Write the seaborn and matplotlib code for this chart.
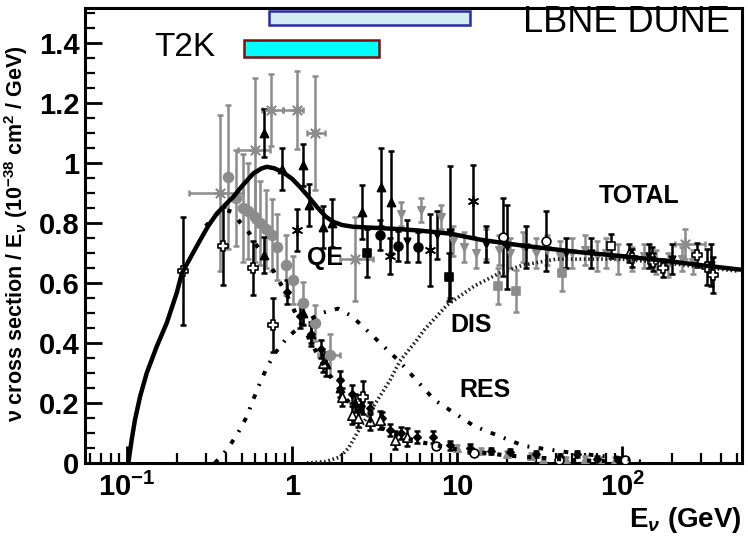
import numpy as np
import matplotlib
matplotlib.use("Agg")
import matplotlib.pyplot as plt
from matplotlib.patches import Rectangle
from matplotlib.ticker import FixedLocator, FixedFormatter, NullFormatter, LogLocator, MultipleLocator
import seaborn as sns

# ---------------- curves ----------------
total_x = [0.102, 0.1067, 0.1117, 0.12, 0.1316, 0.1514, 0.174, 0.2, 0.215, 0.245, 0.277, 0.31,
           0.35, 0.4, 0.441, 0.5, 0.583, 0.65, 0.703, 0.78, 0.88, 1.0, 1.12, 1.25, 1.42, 1.6, 1.77, 2.0,
           2.34, 3.0, 4.5, 6.0, 9.1, 13.8, 17.4, 25, 40, 55.6, 100, 200, 300, 520]
total_y = [0.003, 0.078, 0.144, 0.222, 0.30, 0.389, 0.467, 0.567, 0.633, 0.69, 0.743, 0.79,
           0.832, 0.865, 0.888, 0.925, 0.966, 0.982, 0.988, 0.983, 0.97, 0.948, 0.92, 0.89, 0.853, 0.822,
           0.805, 0.794, 0.788, 0.785, 0.78, 0.775, 0.765, 0.745, 0.737, 0.725, 0.712, 0.703, 0.69,
           0.672, 0.66, 0.645]

qe_x = [0.3, 0.35, 0.376, 0.433, 0.484, 0.526, 0.572, 0.614, 0.658, 0.715, 0.767, 0.81, 0.93, 1.07, 1.23,
        1.38, 1.7, 2.15, 2.69, 3.4, 4.5, 6.0, 10, 20, 50, 100]
qe_y = [0.79, 0.83, 0.85, 0.837, 0.803, 0.783, 0.753, 0.723, 0.70, 0.67, 0.643, 0.62, 0.56, 0.49, 0.43,
        0.377, 0.29, 0.21, 0.157, 0.12, 0.09, 0.07, 0.045, 0.025, 0.01, 0.004]

res_x = [0.34, 0.37, 0.41, 0.47, 0.53, 0.58, 0.64, 0.705, 0.79, 0.93, 1.2, 1.5, 1.9, 2.3, 3.0, 4.45, 7.3,
         12.7, 25.4, 51, 98, 130]
res_y = [0.0, 0.02, 0.05, 0.10, 0.153, 0.21, 0.267, 0.32, 0.367, 0.417, 0.47, 0.50, 0.515, 0.49, 0.43,
         0.34, 0.21, 0.123, 0.057, 0.033, 0.017, 0.005]

dis_x = [1.23, 1.6, 1.95, 2.2, 2.48, 3.1, 3.93, 4.5, 5.7, 6.3, 8.7, 12.7, 18, 25, 40, 100, 200, 500]
dis_y = [0.0, 0.005, 0.02, 0.05, 0.10, 0.187, 0.277, 0.34, 0.41, 0.443, 0.527, 0.59, 0.633, 0.66, 0.68,
         0.68, 0.665, 0.64]

# ---------------- data points ----------------
gstar_x = [0.366, 0.597, 0.746, 1.07, 1.38, 2.41, 240]
gstar_y = [0.90, 1.043, 1.177, 1.177, 1.10, 0.68, 0.73]
gstar_yerr = [0.26, 0.24, 0.12, 0.13, 0.19, 0.14, 0.05]
gstar_xlo = [0.238, 0.47, 0.66, 0.88, 1.23, 1.95, 209]
gstar_xhi = [0.505, 0.736, 0.88, 1.17, 1.58, 3.1, 317]

gcirc_x = [0.41, 0.457, 0.505, 0.54, 0.597, 0.64, 0.696, 0.757, 0.81, 0.92, 1.014, 1.17, 1.38, 1.70]
gcirc_y = [0.953, 0.883, 0.85, 0.84, 0.82, 0.80, 0.78, 0.76, 0.72, 0.66, 0.61, 0.533, 0.467, 0.36]
gcirc_yerr = [0.24, 0.16, 0.18, 0.16, 0.15, 0.14, 0.13, 0.12, 0.11, 0.10, 0.08, 0.07, 0.06, 0.07]
gcirc_xlo = [0.41, 0.457, 0.505, 0.54, 0.597, 0.64, 0.696, 0.757, 0.81, 0.92, 1.014, 1.17, 1.38, 1.44]
gcirc_xhi = [0.41, 0.457, 0.505, 0.54, 0.597, 0.64, 0.696, 0.757, 0.81, 0.92, 1.014, 1.17, 1.38, 1.95]

btri_x = [0.677, 0.87, 1.17, 1.27, 1.54, 1.75, 2.65, 3.46, 3.98, 0.677, 1.17, 1.3, 1.6, 1.95, 2.4]
btri_y = [1.10, 0.98, 0.993, 0.86, 0.787, 0.80, 0.837, 0.92, 0.87, 0.693, 0.50, 0.43, 0.33, 0.25, 0.20]
btri_yerr = [0.08, 0.07, 0.07, 0.07, 0.07, 0.08, 0.09, 0.13, 0.17, 0.06, 0.04, 0.04, 0.04, 0.03, 0.03]

wcross_x = [0.218, 0.382, 0.58, 0.767, 2.69, 115, 154, 177, 285, 327, 356]
wcross_y = [0.64, 0.723, 0.65, 0.46, 0.22, 0.683, 0.67, 0.65, 0.693, 0.653, 0.627]
wcross_yerr = [0.18, 0.13, 0.09, 0.09, 0.055, 0.03, 0.03, 0.03, 0.04, 0.06, 0.06]

bcirc_x = [3.42, 4.39, 5.8]
bcirc_y = [0.76, 0.723, 0.72]
bcirc_yerr = [0.05, 0.05, 0.05]

bsq_x = [2.84, 8.95]
bsq_y = [0.70, 0.62]
bsq_yerr = [0.08, 0.08]

gsq_x = [17.7, 22.8, 43.3]
gsq_y = [0.59, 0.573, 0.633]
gsq_yerr = [0.06, 0.07, 0.06]

bast_x = [1.07, 3.93, 6.87, 12.5]
bast_y = [0.777, 0.69, 0.71, 0.873]
bast_yerr = [0.07, 0.06, 0.12, 0.12]

ocirc_x = [19.0, 34.6, 7.5, 12.7, 41.5, 104]
ocirc_y = [0.753, 0.74, 0.057, 0.033, 0.01, 0.01]
ocirc_yerr = [0.13, 0.10, 0.01, 0.01, 0.01, 0.01]

osq_x = [85.8]
osq_y = [0.723]
osq_yerr = [0.04]

otri_x = [1.54, 2.01, 2.31, 2.51, 2.97, 3.4, 4.2, 4.97, 110, 152]
otri_y = [0.333, 0.22, 0.16, 0.15, 0.14, 0.143, 0.077, 0.087, 0.70, 0.69]
otri_yerr = [0.03, 0.03, 0.03, 0.03, 0.03, 0.03, 0.03, 0.03, 0.03, 0.03]

ginv_x = [4.58, 6.05, 8.0, 9.5, 11, 13, 15, 18, 21, 25, 30, 35, 42, 50, 60, 70, 80, 95, 115, 135, 160,
          190, 230, 270]
ginv_y = [0.83, 0.843, 0.82, 0.74, 0.72, 0.70, 0.73, 0.71, 0.70, 0.72, 0.70, 0.71, 0.69, 0.70, 0.71, 0.69,
          0.70, 0.68, 0.68, 0.69, 0.67, 0.66, 0.68, 0.67]
ginv_yerr = [0.04, 0.04, 0.04, 0.05, 0.05, 0.05, 0.05, 0.05, 0.05, 0.05, 0.05, 0.05, 0.05, 0.05, 0.05,
             0.05, 0.05, 0.05, 0.04, 0.04, 0.04, 0.04, 0.04, 0.04]

binv_x = [5.0, 7.6, 9.1, 15, 20.1, 26, 46, 65, 146, 200, 345]
binv_y = [0.74, 0.76, 0.77, 0.73, 0.72, 0.72, 0.70, 0.70, 0.69, 0.68, 0.66]
binv_yerr = [0.07, 0.08, 0.22, 0.06, 0.14, 0.07, 0.05, 0.05, 0.04, 0.05, 0.07]

bqe_x = [0.93, 1.12, 1.3, 1.5, 1.95, 2.3, 2.6, 2.97, 3.5, 3.93, 4.6, 5.7, 7.1, 9.1, 12, 16, 21, 30, 42,
         53, 70, 95]
bqe_y = [0.57, 0.49, 0.43, 0.38, 0.277, 0.23, 0.19, 0.183, 0.15, 0.11, 0.10, 0.087, 0.087, 0.06, 0.05,
         0.04, 0.037, 0.03, 0.02, 0.03, 0.015, 0.01]
bqe_yerr = [0.04, 0.04, 0.03, 0.03, 0.03, 0.03, 0.02, 0.02, 0.02, 0.02, 0.02, 0.02, 0.02, 0.015, 0.015,
            0.01, 0.01, 0.01, 0.01, 0.01, 0.01, 0.01]

gqe_x = [10, 14, 20, 28, 33, 46, 60, 73, 90]
gqe_y = [0.05, 0.04, 0.03, 0.025, 0.01, 0.01, 0.015, 0.01, 0.01]
gqe_yerr = [0.01, 0.01, 0.01, 0.01, 0.01, 0.01, 0.01, 0.01, 0.01]

t2k_range = [0.51, 3.37]
t2k_band = [1.353, 1.41]
lbne_range = [0.72, 12.0]
lbne_band = [1.46, 1.507]

ytick_vals = [0, 0.2, 0.4, 0.6, 0.8, 1.0, 1.2, 1.4]
ytick_labels = ['0', '0.2', '0.4', '0.6', '0.8', '1', '1.2', '1.4']
xtick_vals = [0.1, 1, 10, 100]
xtick_labels = [r'10$^{-1}$', '1', '10', r'10$^{2}$']

# ---------------- style ----------------
sns.set_theme(style="white")
plt.rcParams['font.family'] = ['Liberation Sans', 'DejaVu Sans']
plt.rcParams['mathtext.fontset'] = 'custom'
plt.rcParams['mathtext.rm'] = 'Liberation Sans:bold'
plt.rcParams['mathtext.it'] = 'Liberation Sans:bold:italic'
plt.rcParams['mathtext.bf'] = 'Liberation Sans:bold'
for k in ['text.color', 'axes.labelcolor', 'xtick.color', 'ytick.color', 'axes.edgecolor']:
    plt.rcParams[k] = 'black'

GRAY = '#8c8c8c'

fig = plt.figure(figsize=(7.48, 5.46), dpi=100)
ax = fig.add_axes([0.1136, 0.152, 0.8784, 0.833])
ax.set_xscale('log')
ax.set_xlim(0.0556, 533)
ax.set_ylim(0, 1.517)

# curves
sns.lineplot(x=total_x, y=total_y, ax=ax, color='black', linewidth=3.2, sort=False, zorder=6)
sns.lineplot(x=qe_x, y=qe_y, ax=ax, color='black', linewidth=3.0, sort=False, zorder=5,
             linestyle=(0, (1, 2.6)))
sns.lineplot(x=res_x, y=res_y, ax=ax, color='black', linewidth=2.8, sort=False, zorder=5,
             linestyle=(0, (1.2, 2.4, 0.5, 2.4)))
sns.lineplot(x=dis_x, y=dis_y, ax=ax, color='#202020', linewidth=2.6, sort=False, zorder=5,
             linestyle=(0, (0.45, 0.75)))


def series(x, y, yerr, color, marker, size, face=None, xlo=None, xhi=None, z=4):
    x = np.asarray(x)
    xerr = None
    if xlo is not None:
        xerr = [x - np.asarray(xlo), np.asarray(xhi) - x]
    ax.errorbar(x, y, yerr=yerr, xerr=xerr, fmt='none', ecolor=color, elinewidth=1.8,
                capsize=2.5, capthick=1.8, zorder=z)
    fc = color if face is None else face
    sns.scatterplot(x=x, y=y, ax=ax, marker=marker, s=size, color=fc, edgecolor=color,
                    linewidth=1.2, zorder=z + 0.5, legend=False)


series(ginv_x, ginv_y, ginv_yerr, GRAY, 'v', 28)
series(gqe_x, gqe_y, gqe_yerr, GRAY, '^', 28)
series(gsq_x, gsq_y, gsq_yerr, GRAY, 's', 40)
series(gcirc_x, gcirc_y, gcirc_yerr, GRAY, 'o', 50, xlo=gcirc_xlo, xhi=gcirc_xhi)
series(gstar_x, gstar_y, gstar_yerr, GRAY, (8, 2, 0), 70, xlo=gstar_xlo, xhi=gstar_xhi)
series(binv_x, binv_y, binv_yerr, 'black', 'v', 22)
series(bqe_x, bqe_y, bqe_yerr, 'black', 'D', 14)
series(btri_x, btri_y, btri_yerr, 'black', '^', 34)
series(bcirc_x, bcirc_y, bcirc_yerr, 'black', 'o', 40)
series(bsq_x, bsq_y, bsq_yerr, 'black', 's', 36)
series(bast_x, bast_y, bast_yerr, 'black', (6, 2, 0), 50)
series(ocirc_x, ocirc_y, ocirc_yerr, 'black', 'o', 40, face='white')
series(osq_x, osq_y, osq_yerr, 'black', 's', 40, face='white')
series(otri_x, otri_y, otri_yerr, 'black', '^', 45, face='white')
series(wcross_x, wcross_y, wcross_yerr, 'black', 'P', 55, face='white')

# experiment energy bands
ax.add_patch(Rectangle((t2k_range[0], t2k_band[0]), t2k_range[1] - t2k_range[0],
                       t2k_band[1] - t2k_band[0], facecolor='#00ffff', edgecolor='#7a1010',
                       linewidth=1.8, zorder=7))
ax.add_patch(Rectangle((lbne_range[0], lbne_band[0]), lbne_range[1] - lbne_range[0],
                       lbne_band[1] - lbne_band[0], facecolor='#d3ebf2', edgecolor='#2a2aa8',
                       linewidth=1.8, zorder=7))

ax.text(0.225, 1.387, 'T2K', fontsize=24, ha='center', va='center', zorder=8)
ax.text(452, 1.47, 'LBNE DUNE', fontsize=26, ha='right', va='center', zorder=8)
ax.text(127, 0.89, 'TOTAL', fontsize=18, fontweight='bold', ha='center', va='center', zorder=8)
ax.text(1.585, 0.683, 'QE', fontsize=18, fontweight='bold', ha='center', va='center', zorder=8)
ax.text(12.2, 0.46, 'DIS', fontsize=18, fontweight='bold', ha='center', va='center', zorder=8)
ax.text(14.8, 0.243, 'RES', fontsize=18, fontweight='bold', ha='center', va='center', zorder=8)

# axes / ticks
for side in ['left', 'bottom', 'top', 'right']:
    ax.spines[side].set_linewidth(2.2)
    ax.spines[side].set_color('black')

ax.yaxis.set_major_locator(FixedLocator(ytick_vals))
ax.yaxis.set_major_formatter(FixedFormatter(ytick_labels))
ax.yaxis.set_minor_locator(MultipleLocator(0.05))
ax.xaxis.set_major_locator(FixedLocator(xtick_vals))
ax.xaxis.set_major_formatter(FixedFormatter(xtick_labels))
ax.xaxis.set_minor_locator(LogLocator(base=10, subs=np.arange(2, 10)))
ax.xaxis.set_minor_formatter(NullFormatter())
ax.tick_params(which='major', direction='in', length=12, width=2, labelsize=21, pad=7,
               left=True, bottom=True, top=False, right=False, colors='black')
ax.tick_params(which='minor', direction='in', length=7, width=1.6, left=True, bottom=True,
               top=False, right=False, colors='black')
ax.tick_params(axis='y', which='major', pad=4)
for lab in ax.get_xticklabels() + ax.get_yticklabels():
    lab.set_fontweight('bold')

ax.set_ylabel(r'ν cross section / E$_{ν}$ (10$^{-38}$ cm$^{2}$ / GeV)', fontsize=15.5,
              fontweight='bold')
ax.yaxis.set_label_coords(-0.083, 0.505)
ax.set_xlabel(r'E$_{ν}$ (GeV)', fontsize=20, fontweight='bold')
ax.xaxis.set_label_coords(1.0, -0.092)
ax.xaxis.label.set_horizontalalignment('right')

fig.savefig('out.png', dpi=100)
